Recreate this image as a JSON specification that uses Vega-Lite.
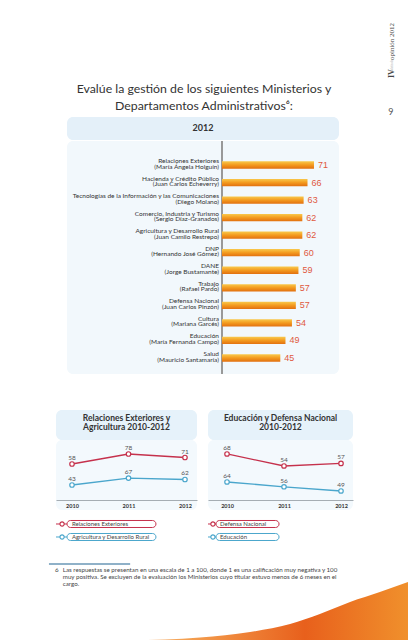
{
  "$schema": "https://vega.github.io/schema/vega-lite/v6.json",
  "padding": 0,
  "background": "white",
  "spacing": 0,
  "bounds": "full",
  "config": {"view": {"stroke": null}, "font": "Lato", "concat": {"spacing": 0}},
  "vconcat": [
    {
      "width": 408, "height": 117,
      "data": {"values": [{}]},
      "title": {"text": ["Evalúe la gestión de los siguientes Ministerios y", "Departamentos Administrativos⁶:"], "anchor": "middle", "orient": "top", "offset": -112, "baseline": "top", "fontSize": 12.3, "font": "Lato", "fontWeight": "normal", "color": "#333333", "lineHeight": 17},
      "layer": [
        {"mark": {"type": "text", "text": "opinión 2012", "angle": 270, "align": "left", "baseline": "middle", "font": "Liberation Serif", "fontSize": 7, "color": "#444444"},
         "encoding": {"x": {"datum": 96.1, "type": "quantitative", "scale": {"domain": [0, 100], "nice": false}, "axis": null}, "y": {"datum": 51.3, "type": "quantitative", "scale": {"domain": [0, 100], "nice": false, "reverse": true}, "axis": null}}},
        {"mark": {"type": "text", "text": "IV", "angle": 270, "align": "left", "baseline": "middle", "font": "Liberation Serif", "fontWeight": "bold", "fontSize": 8, "color": "#444444"},
         "encoding": {"x": {"datum": 96.1, "type": "quantitative"}, "y": {"datum": 66.7, "type": "quantitative"}}},
        {"mark": {"type": "text", "text": "boletín de", "angle": 270, "align": "left", "baseline": "middle", "font": "Liberation Serif", "fontSize": 3, "color": "#aaaaaa"},
         "encoding": {"x": {"datum": 96.1, "type": "quantitative"}, "y": {"datum": 61.5, "type": "quantitative"}}},
        {"mark": {"type": "text", "text": "9", "align": "center", "baseline": "bottom", "fontSize": 9, "color": "#555555"},
         "encoding": {"x": {"datum": 95.8, "type": "quantitative"}, "y": {"datum": 100, "type": "quantitative"}}}
      ]
    },
    {
      "hconcat": [
        {"width": 67, "height": 23, "data": {"values": []}, "mark": "text"},
        {"width": 272, "height": 23, "view": {"fill": "#e4f0f9", "cornerRadius": 6}, "data": {"values": []}, "mark": "text",
         "title": {"text": "2012", "fontSize": 9, "fontWeight": "bold", "color": "#333333", "anchor": "middle", "orient": "top", "offset": -25, "baseline": "bottom"}}
      ], "spacing": 0, "bounds": "flush"
    },
    {
      "hconcat": [
        {"width": 67, "height": 233, "data": {"values": []}, "mark": "text"},
        {
          "width": 272, "height": 233,
          "view": {"fill": "#f2f8fc", "cornerRadius": 6},
          "data": {"values": [
            {"ministerio": "Relaciones Exteriores", "titular": "(María Ángela Holguín)", "valor": 71},
            {"ministerio": "Hacienda y Crédito Público", "titular": "(Juan Carlos Echeverry)", "valor": 66},
            {"ministerio": "Tecnologías de la Información y las Comunicaciones", "titular": "(Diego Molano)", "valor": 63},
            {"ministerio": "Comercio, Industria y Turismo", "titular": "(Sergio Díaz-Granados)", "valor": 62},
            {"ministerio": "Agricultura y Desarrollo Rural", "titular": "(Juan Camilo Restrepo)", "valor": 62},
            {"ministerio": "DNP", "titular": "(Hernando José Gómez)", "valor": 60},
            {"ministerio": "DANE", "titular": "(Jorge Bustamante)", "valor": 59},
            {"ministerio": "Trabajo", "titular": "(Rafael Pardo)", "valor": 57},
            {"ministerio": "Defensa Nacional", "titular": "(Juan Carlos Pinzón)", "valor": 57},
            {"ministerio": "Cultura", "titular": "(Mariana Garcés)", "valor": 54},
            {"ministerio": "Educación", "titular": "(María Fernanda Campo)", "valor": 49},
            {"ministerio": "Salud", "titular": "(Mauricio Santamaría)", "valor": 45}
          ]},
          "layer": [
            {"mark": {"type": "rule", "color": "#9a9a9a", "strokeWidth": 1},
             "encoding": {"x": {"datum": 0, "type": "quantitative", "scale": {"domain": [-119.6, 90.3], "nice": false, "zero": false}, "axis": null}}},
            {"mark": {"type": "bar", "fill": {"gradient": "linear", "x1": 0, "y1": 0, "x2": 0, "y2": 1, "stops": [{"offset": 0, "color": "#f9c94c"}, {"offset": 0.5, "color": "#f39a1f"}, {"offset": 1, "color": "#e2700f"}]}},
             "encoding": {
               "x": {"field": "valor", "type": "quantitative", "scale": {"domain": [-119.6, 90.3], "nice": false, "zero": false}, "axis": null},
               "y": {"field": "ministerio", "type": "nominal", "sort": null, "axis": null, "scale": {"paddingInner": 0.584, "paddingOuter": 0.932, "align": 0.622}}}},
            {"mark": {"type": "text", "align": "left", "baseline": "middle", "dx": 4, "fontSize": 9, "font": "Liberation Sans", "color": "#e0593e"},
             "encoding": {
               "x": {"field": "valor", "type": "quantitative"},
               "y": {"field": "ministerio", "type": "nominal", "sort": null},
               "text": {"field": "valor"}}},
            {"mark": {"type": "text", "align": "right", "baseline": "middle", "dx": -3, "dy": -4, "fontSize": 6.5, "color": "#333333"},
             "encoding": {
               "x": {"datum": 0, "type": "quantitative"},
               "y": {"field": "ministerio", "type": "nominal", "sort": null},
               "text": {"field": "ministerio"}}},
            {"mark": {"type": "text", "align": "right", "baseline": "middle", "dx": -3, "dy": 1.6, "fontSize": 6.5, "color": "#333333"},
             "encoding": {
               "x": {"datum": 0, "type": "quantitative"},
               "y": {"field": "ministerio", "type": "nominal", "sort": null},
               "text": {"field": "titular"}}}
          ]
        }
      ], "spacing": 0, "bounds": "flush"
    },
    {"width": 1, "height": 35, "data": {"values": []}, "mark": "text"},
    {
      "hconcat": [
        {"width": 56, "height": 30, "data": {"values": []}, "mark": "text"},
        {"width": 141, "height": 30, "view": {"fill": "#e6f2fa", "cornerRadius": 6}, "data": {"values": []}, "mark": "text",
         "title": {"text": ["Relaciones Exteriores y", "Agricultura 2010-2012"], "fontSize": 8.5, "fontWeight": "bold", "color": "#333333", "anchor": "middle", "orient": "top", "offset": -21, "baseline": "top", "lineHeight": 9}},
        {"width": 11, "height": 30, "data": {"values": []}, "mark": "text"},
        {"width": 145, "height": 30, "view": {"fill": "#e6f2fa", "cornerRadius": 6}, "data": {"values": []}, "mark": "text",
         "title": {"text": ["Educación y Defensa Nacional", "2010-2012"], "fontSize": 8.5, "fontWeight": "bold", "color": "#333333", "anchor": "middle", "orient": "top", "offset": -21, "baseline": "top", "lineHeight": 9}}
      ], "spacing": 0, "bounds": "flush"
    },
    {
      "hconcat": [
        {"width": 56, "height": 70, "data": {"values": []}, "mark": "text"},
        {
          "width": 141, "height": 70,
          "view": {"fill": "#f3f9fd", "cornerRadius": 6},
          "data": {"values": [
            {"serie": "Relaciones Exteriores", "anio": "2010", "valor": 58},
            {"serie": "Relaciones Exteriores", "anio": "2011", "valor": 78},
            {"serie": "Relaciones Exteriores", "anio": "2012", "valor": 71},
            {"serie": "Agricultura y Desarrollo Rural", "anio": "2010", "valor": 43},
            {"serie": "Agricultura y Desarrollo Rural", "anio": "2011", "valor": 67},
            {"serie": "Agricultura y Desarrollo Rural", "anio": "2012", "valor": 62}
          ]},
          "encoding": {"x": {"field": "anio", "type": "ordinal", "scale": {"type": "point", "padding": 0.248, "align": 0.571},
            "axis": {"orient": "bottom", "offset": -10, "title": null, "labelAngle": 0, "ticks": false, "grid": false, "domainColor": "#a5adb3", "labelFontSize": 5.5, "labelFontWeight": "bold", "labelColor": "#333333", "labelPadding": 3}}},
          "layer": [
            {"transform": [{"filter": "datum.serie === 'Relaciones Exteriores'"}],
             "encoding": {"y": {"field": "valor", "type": "quantitative", "scale": {"domain": [-34, 106], "nice": false, "zero": false}, "axis": null}},
             "layer": [
               {"mark": {"type": "line", "color": "#c5314c", "strokeWidth": 1.3}},
               {"mark": {"type": "point", "shape": "circle", "filled": true, "fill": "#ffffff", "stroke": "#c5314c", "strokeWidth": 1.2, "size": 20, "opacity": 1}},
               {"mark": {"type": "text", "dy": -6, "baseline": "middle", "fontSize": 6.5, "color": "#555555"}, "encoding": {"text": {"field": "valor"}}}
             ]},
            {"transform": [{"filter": "datum.serie === 'Agricultura y Desarrollo Rural'"}],
             "encoding": {"y": {"field": "valor", "type": "quantitative", "scale": {"domain": [-43.2, 198.2], "nice": false, "zero": false}, "axis": null}},
             "layer": [
               {"mark": {"type": "line", "color": "#4aa6cc", "strokeWidth": 1.3}},
               {"mark": {"type": "point", "shape": "circle", "filled": true, "fill": "#ffffff", "stroke": "#4aa6cc", "strokeWidth": 1.2, "size": 20, "opacity": 1}},
               {"mark": {"type": "text", "dy": -6, "baseline": "middle", "fontSize": 6.5, "color": "#555555"}, "encoding": {"text": {"field": "valor"}}}
             ]}
          ],
          "resolve": {"scale": {"y": "independent"}}
        },
        {"width": 11, "height": 70, "data": {"values": []}, "mark": "text"},
        {
          "width": 145, "height": 70,
          "view": {"fill": "#f3f9fd", "cornerRadius": 6},
          "data": {"values": [
            {"serie": "Defensa Nacional", "anio": "2010", "valor": 68},
            {"serie": "Defensa Nacional", "anio": "2011", "valor": 54},
            {"serie": "Defensa Nacional", "anio": "2012", "valor": 57},
            {"serie": "Educación", "anio": "2010", "valor": 64},
            {"serie": "Educación", "anio": "2011", "valor": 56},
            {"serie": "Educación", "anio": "2012", "valor": 49}
          ]},
          "encoding": {"x": {"field": "anio", "type": "ordinal", "scale": {"type": "point", "padding": 0.272, "align": 0.613},
            "axis": {"orient": "bottom", "offset": -10, "title": null, "labelAngle": 0, "ticks": false, "grid": false, "domainColor": "#a5adb3", "labelFontSize": 5.5, "labelFontWeight": "bold", "labelColor": "#333333", "labelPadding": 3}}},
          "layer": [
            {"transform": [{"filter": "datum.serie === 'Defensa Nacional'"}],
             "encoding": {"y": {"field": "valor", "type": "quantitative", "scale": {"domain": [2.65, 84.3], "nice": false, "zero": false}, "axis": null}},
             "layer": [
               {"mark": {"type": "line", "color": "#c5314c", "strokeWidth": 1.3}},
               {"mark": {"type": "point", "shape": "circle", "filled": true, "fill": "#ffffff", "stroke": "#c5314c", "strokeWidth": 1.2, "size": 20, "opacity": 1}},
               {"mark": {"type": "text", "dy": -6, "baseline": "middle", "fontSize": 6.5, "color": "#555555"}, "encoding": {"text": {"field": "valor"}}}
             ]},
            {"transform": [{"filter": "datum.serie === 'Educación'"}],
             "encoding": {"y": {"field": "valor", "type": "quantitative", "scale": {"domain": [17.3, 134], "nice": false, "zero": false}, "axis": null}},
             "layer": [
               {"mark": {"type": "line", "color": "#4aa6cc", "strokeWidth": 1.3}},
               {"mark": {"type": "point", "shape": "circle", "filled": true, "fill": "#ffffff", "stroke": "#4aa6cc", "strokeWidth": 1.2, "size": 20, "opacity": 1}},
               {"mark": {"type": "text", "dy": -6, "baseline": "middle", "fontSize": 6.5, "color": "#555555"}, "encoding": {"text": {"field": "valor"}}}
             ]}
          ],
          "resolve": {"scale": {"y": "independent"}}
        }
      ], "spacing": 0, "bounds": "flush"
    },
    {
      "hconcat": [
        {"width": 56, "height": 37, "data": {"values": []}, "mark": "text"},
        {
          "width": 141, "height": 37,
          "data": {"values": [{"serie": "Relaciones Exteriores"}, {"serie": "Agricultura y Desarrollo Rural"}]},
          "layer": [
            {"mark": {"type": "rule", "strokeWidth": 1},
             "encoding": {"x": {"datum": 0, "type": "quantitative", "scale": {"domain": [0, 100], "nice": false}, "axis": null}, "x2": {"datum": 7.8},
               "y": {"field": "serie", "type": "nominal", "sort": null, "axis": null, "scale": {"type": "point", "padding": 0.923, "align": 0.583}},
               "color": {"field": "serie", "type": "nominal", "scale": {"domain": ["Relaciones Exteriores", "Agricultura y Desarrollo Rural"], "range": ["#c5314c", "#4aa6cc"]}, "legend": null}}},
            {"mark": {"type": "bar", "height": 7, "cornerRadius": 3.5, "fill": "#ffffff", "strokeWidth": 1},
             "encoding": {"x": {"datum": 7.8, "type": "quantitative"}, "x2": {"datum": 70.9},
               "y": {"field": "serie", "type": "nominal", "sort": null},
               "stroke": {"field": "serie", "type": "nominal", "scale": {"domain": ["Relaciones Exteriores", "Agricultura y Desarrollo Rural"], "range": ["#c5314c", "#4aa6cc"]}, "legend": null}}},
            {"mark": {"type": "point", "shape": "circle", "filled": true, "fill": "#ffffff", "size": 18, "strokeWidth": 1.1, "opacity": 1},
             "encoding": {"x": {"datum": 4.3, "type": "quantitative"},
               "y": {"field": "serie", "type": "nominal", "sort": null},
               "stroke": {"field": "serie", "type": "nominal", "legend": null}}},
            {"mark": {"type": "text", "align": "left", "baseline": "middle", "fontSize": 6, "color": "#444444"},
             "encoding": {"x": {"datum": 11.3, "type": "quantitative"},
               "y": {"field": "serie", "type": "nominal", "sort": null},
               "text": {"field": "serie"}}}
          ]
        },
        {"width": 11, "height": 37, "data": {"values": []}, "mark": "text"},
        {
          "width": 145, "height": 37,
          "data": {"values": [{"serie": "Defensa Nacional"}, {"serie": "Educación"}]},
          "layer": [
            {"mark": {"type": "rule", "strokeWidth": 1},
             "encoding": {"x": {"datum": 0, "type": "quantitative", "scale": {"domain": [0, 100], "nice": false}, "axis": null}, "x2": {"datum": 5.5},
               "y": {"field": "serie", "type": "nominal", "sort": null, "axis": null, "scale": {"type": "point", "padding": 0.923, "align": 0.583}},
               "color": {"field": "serie", "type": "nominal", "scale": {"domain": ["Defensa Nacional", "Educación"], "range": ["#c5314c", "#4aa6cc"]}, "legend": null}}},
            {"mark": {"type": "bar", "height": 7, "cornerRadius": 3.5, "fill": "#ffffff", "strokeWidth": 1},
             "encoding": {"x": {"datum": 5.5, "type": "quantitative"}, "x2": {"datum": 49},
               "y": {"field": "serie", "type": "nominal", "sort": null},
               "stroke": {"field": "serie", "type": "nominal", "scale": {"domain": ["Defensa Nacional", "Educación"], "range": ["#c5314c", "#4aa6cc"]}, "legend": null}}},
            {"mark": {"type": "point", "shape": "circle", "filled": true, "fill": "#ffffff", "size": 18, "strokeWidth": 1.1, "opacity": 1},
             "encoding": {"x": {"datum": 3.4, "type": "quantitative"},
               "y": {"field": "serie", "type": "nominal", "sort": null},
               "stroke": {"field": "serie", "type": "nominal", "legend": null}}},
            {"mark": {"type": "text", "align": "left", "baseline": "middle", "fontSize": 6, "color": "#444444"},
             "encoding": {"x": {"datum": 8.3, "type": "quantitative"},
               "y": {"field": "serie", "type": "nominal", "sort": null},
               "text": {"field": "serie"}}}
          ]
        }
      ], "spacing": 0, "bounds": "flush"
    },
    {
      "width": 408, "height": 95,
      "data": {"values": [
        {"sx": 9.8, "sy": 0}, {"sx": 31.9, "sy": 1.6}, {"sx": 49.0, "sy": 4.7}, {"sx": 61.3, "sy": 10.5},
        {"sx": 71.1, "sy": 18.9}, {"sx": 78.4, "sy": 29.5}, {"sx": 85.8, "sy": 42.1}, {"sx": 93.1, "sy": 52.6}, {"sx": 100, "sy": 63.2}
      ]},
      "layer": [
        {"mark": {"type": "area", "interpolate": "monotone", "fill": {"gradient": "linear", "x1": 0, "y1": 0, "x2": 1, "y2": 0, "stops": [{"offset": 0, "color": "#fbe3c6"}, {"offset": 0.4, "color": "#f4a050"}, {"offset": 0.72, "color": "#e8601c"}, {"offset": 1, "color": "#f0902c"}]}},
         "encoding": {"x": {"field": "sx", "type": "quantitative", "scale": {"domain": [0, 100], "nice": false, "zero": false}, "axis": null},
                      "y": {"field": "sy", "type": "quantitative", "scale": {"domain": [0, 100], "nice": false}, "axis": null}}},
        {"data": {"values": [{}]}, "mark": {"type": "rule", "color": "#8fb1c8", "strokeWidth": 2},
         "encoding": {"x": {"datum": 12.0, "type": "quantitative"}, "x2": {"datum": 31.9}, "y": {"datum": 82.1, "type": "quantitative"}}},
        {"data": {"values": [{}]}, "mark": {"type": "text", "text": "6", "align": "left", "baseline": "middle", "fontSize": 6.2, "color": "#444444"},
         "encoding": {"x": {"datum": 13.5, "type": "quantitative"}, "y": {"datum": 75.8, "type": "quantitative"}}},
        {"data": {"values": [{}]}, "mark": {"type": "text", "text": "Las respuestas se presentan en una escala de 1 a 100, donde 1 es una calificación muy negativa y 100\nmuy positiva. Se excluyen de la evaluación los Ministerios cuyo titular estuvo menos de 6 meses en el\ncargo.", "lineBreak": "\n", "align": "left", "baseline": "middle", "lineHeight": 7, "fontSize": 6.2, "color": "#444444"},
         "encoding": {"x": {"datum": 15.4, "type": "quantitative"}, "y": {"datum": 75.8, "type": "quantitative"}}}
      ]
    }
  ]
}
